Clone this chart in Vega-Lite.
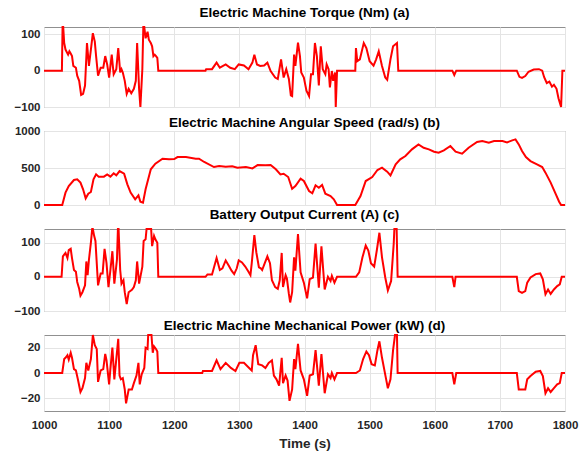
{
  "$schema": "https://vega.github.io/schema/vega-lite/v6.json",
  "padding": {"left": 13, "top": 5, "right": 4, "bottom": 0},
  "bounds": "flush",
  "spacing": 24,
  "config": {
    "view": {"stroke": "#909090", "strokeWidth": 1},
    "axis": {"labelFont": "Liberation Sans", "labelFontWeight": "bold", "labelFontSize": 11.5, "labelColor": "#262626", "gridColor": "#e4e4e4", "gridWidth": 1, "grid": true, "domain": false, "ticks": false, "labelPadding": 4, "labelFlush": false, "titleFont": "Liberation Sans", "titleFontWeight": "bold", "titleFontSize": 13.5, "titleColor": "#262626"},
    "title": {"font": "Liberation Sans", "fontSize": 13.5, "fontWeight": "bold", "color": "#000000", "offset": 0, "anchor": "middle"},
    "line": {"color": "#ff0000", "strokeWidth": 2, "clip": true}
  },
  "datasets": {
    "torque": [
      {"t":1000,"v":0},{"t":1027.5,"v":0},{"t":1028.5,"v":120},{"t":1029.5,"v":120},{"t":1031,"v":76},{"t":1033,"v":58},{"t":1037,"v":44},{"t":1039,"v":53},{"t":1041,"v":47},{"t":1043,"v":40},{"t":1045,"v":13},{"t":1049,"v":8},{"t":1051,"v":-14},{"t":1054,"v":-28},{"t":1057,"v":-67},{"t":1060,"v":-64},{"t":1063,"v":-41},{"t":1066,"v":76},{"t":1069,"v":13},{"t":1072,"v":58},{"t":1075,"v":103},{"t":1078,"v":80},{"t":1080,"v":40},{"t":1083,"v":-14},{"t":1087,"v":8},{"t":1091,"v":8},{"t":1094,"v":40},{"t":1097,"v":17},{"t":1100,"v":-19},{"t":1104,"v":44},{"t":1107,"v":-10},{"t":1111,"v":4},{"t":1114,"v":62},{"t":1117,"v":-5},{"t":1119,"v":4},{"t":1121,"v":-5},{"t":1124,"v":-28},{"t":1127,"v":-64},{"t":1130,"v":-50},{"t":1134,"v":-62},{"t":1138,"v":-50},{"t":1141,"v":-28},{"t":1143,"v":76},{"t":1146,"v":-50},{"t":1148,"v":-100},{"t":1151,"v":4},{"t":1152.5,"v":120},{"t":1154,"v":120},{"t":1156,"v":89},{"t":1159,"v":107},{"t":1161,"v":85},{"t":1164,"v":76},{"t":1166,"v":67},{"t":1168,"v":40},{"t":1170,"v":44},{"t":1172,"v":40},{"t":1174,"v":35},{"t":1175.5,"v":0},{"t":1248,"v":0},{"t":1249,"v":4},{"t":1258,"v":4},{"t":1265,"v":22},{"t":1270,"v":8},{"t":1279,"v":17},{"t":1286,"v":8},{"t":1293,"v":4},{"t":1299,"v":17},{"t":1307,"v":14},{"t":1314,"v":4},{"t":1320,"v":22},{"t":1323,"v":44},{"t":1327,"v":17},{"t":1332,"v":13},{"t":1338,"v":14},{"t":1343,"v":22},{"t":1348,"v":-1},{"t":1355,"v":-19},{"t":1359,"v":-23},{"t":1364,"v":31},{"t":1368,"v":-19},{"t":1372,"v":4},{"t":1376,"v":-23},{"t":1379,"v":-68},{"t":1381,"v":-70},{"t":1384,"v":44},{"t":1386,"v":13},{"t":1390,"v":77},{"t":1393,"v":40},{"t":1395,"v":-5},{"t":1399,"v":-19},{"t":1403,"v":-55},{"t":1407,"v":-70},{"t":1410,"v":-10},{"t":1413,"v":-10},{"t":1416,"v":76},{"t":1419,"v":40},{"t":1422,"v":-41},{"t":1425,"v":67},{"t":1428,"v":4},{"t":1432,"v":-10},{"t":1434,"v":17},{"t":1437,"v":4},{"t":1439,"v":-46},{"t":1442,"v":-1},{"t":1444,"v":-28},{"t":1447,"v":-5},{"t":1448,"v":-100},{"t":1450,"v":0},{"t":1478,"v":0},{"t":1479,"v":62},{"t":1481,"v":26},{"t":1485,"v":31},{"t":1491,"v":76},{"t":1495,"v":62},{"t":1500,"v":26},{"t":1506,"v":14},{"t":1510,"v":31},{"t":1514,"v":53},{"t":1519,"v":13},{"t":1524,"v":-19},{"t":1527,"v":-25},{"t":1532,"v":31},{"t":1536,"v":67},{"t":1542,"v":76},{"t":1544,"v":0},{"t":1627,"v":0},{"t":1630,"v":-12},{"t":1633,"v":0},{"t":1726,"v":0},{"t":1730,"v":-17},{"t":1734,"v":-20},{"t":1739,"v":-15},{"t":1744,"v":-3},{"t":1752,"v":3},{"t":1760,"v":4},{"t":1765,"v":0},{"t":1768,"v":-18},{"t":1772,"v":-34},{"t":1776,"v":-30},{"t":1780,"v":-44},{"t":1783,"v":-39},{"t":1787,"v":-50},{"t":1790,"v":-76},{"t":1794,"v":-100},{"t":1796,"v":0},{"t":1800,"v":0}
    ],
    "speed": [
      {"t":1000,"v":0},{"t":1028,"v":0},{"t":1033,"v":167},{"t":1038,"v":257},{"t":1046,"v":338},{"t":1051,"v":347},{"t":1056,"v":302},{"t":1060,"v":212},{"t":1064,"v":90},{"t":1068,"v":153},{"t":1072,"v":176},{"t":1076,"v":347},{"t":1080,"v":414},{"t":1084,"v":383},{"t":1092,"v":383},{"t":1097,"v":414},{"t":1102,"v":383},{"t":1107,"v":428},{"t":1111,"v":400},{"t":1116,"v":459},{"t":1123,"v":423},{"t":1128,"v":279},{"t":1133,"v":167},{"t":1140,"v":77},{"t":1145,"v":131},{"t":1148,"v":45},{"t":1152,"v":32},{"t":1156,"v":212},{"t":1164,"v":482},{"t":1171,"v":558},{"t":1182,"v":626},{"t":1192,"v":617},{"t":1200,"v":621},{"t":1205,"v":648},{"t":1218,"v":648},{"t":1233,"v":626},{"t":1238,"v":626},{"t":1246,"v":581},{"t":1261,"v":513},{"t":1269,"v":527},{"t":1279,"v":518},{"t":1289,"v":522},{"t":1297,"v":504},{"t":1310,"v":513},{"t":1320,"v":495},{"t":1328,"v":540},{"t":1340,"v":536},{"t":1348,"v":540},{"t":1356,"v":482},{"t":1363,"v":414},{"t":1368,"v":423},{"t":1375,"v":378},{"t":1381,"v":220},{"t":1386,"v":257},{"t":1394,"v":356},{"t":1399,"v":324},{"t":1407,"v":189},{"t":1412,"v":158},{"t":1417,"v":266},{"t":1422,"v":234},{"t":1427,"v":270},{"t":1432,"v":153},{"t":1440,"v":122},{"t":1445,"v":77},{"t":1450,"v":0},{"t":1478,"v":0},{"t":1486,"v":122},{"t":1494,"v":324},{"t":1504,"v":378},{"t":1512,"v":473},{"t":1519,"v":504},{"t":1527,"v":450},{"t":1532,"v":400},{"t":1540,"v":549},{"t":1547,"v":617},{"t":1555,"v":662},{"t":1565,"v":752},{"t":1575,"v":819},{"t":1583,"v":774},{"t":1591,"v":752},{"t":1599,"v":720},{"t":1606,"v":707},{"t":1614,"v":738},{"t":1624,"v":797},{"t":1632,"v":720},{"t":1642,"v":693},{"t":1652,"v":774},{"t":1665,"v":851},{"t":1673,"v":864},{"t":1683,"v":842},{"t":1691,"v":864},{"t":1704,"v":864},{"t":1711,"v":846},{"t":1719,"v":873},{"t":1724,"v":887},{"t":1729,"v":819},{"t":1734,"v":729},{"t":1740,"v":648},{"t":1747,"v":594},{"t":1757,"v":549},{"t":1765,"v":513},{"t":1770,"v":437},{"t":1778,"v":302},{"t":1786,"v":144},{"t":1791,"v":45},{"t":1794,"v":0},{"t":1800,"v":0}
    ],
    "current": [
      {"t":1000,"v":0},{"t":1027,"v":0},{"t":1029,"v":60},{"t":1031,"v":65},{"t":1033,"v":70},{"t":1036,"v":55},{"t":1038,"v":78},{"t":1041,"v":82},{"t":1043,"v":55},{"t":1046,"v":20},{"t":1049,"v":15},{"t":1051,"v":-15},{"t":1054,"v":-35},{"t":1056,"v":-55},{"t":1059,"v":-45},{"t":1063,"v":-25},{"t":1065,"v":45},{"t":1067,"v":5},{"t":1069,"v":50},{"t":1072,"v":100},{"t":1074,"v":140},{"t":1075,"v":140},{"t":1077,"v":120},{"t":1079,"v":105},{"t":1083,"v":-25},{"t":1087,"v":10},{"t":1090,"v":10},{"t":1093,"v":82},{"t":1096,"v":40},{"t":1099,"v":-30},{"t":1102,"v":20},{"t":1105,"v":75},{"t":1108,"v":-20},{"t":1112,"v":50},{"t":1113.5,"v":140},{"t":1114.5,"v":140},{"t":1117,"v":20},{"t":1119,"v":-20},{"t":1122,"v":-10},{"t":1124,"v":-45},{"t":1127,"v":-80},{"t":1130,"v":-45},{"t":1135,"v":-38},{"t":1138,"v":-30},{"t":1141,"v":-10},{"t":1143,"v":45},{"t":1146,"v":-20},{"t":1148,"v":0},{"t":1151,"v":30},{"t":1153,"v":105},{"t":1156,"v":110},{"t":1157.5,"v":140},{"t":1164.5,"v":140},{"t":1166,"v":90},{"t":1169,"v":120},{"t":1171,"v":110},{"t":1174,"v":100},{"t":1175.5,"v":0},{"t":1248,"v":0},{"t":1251,"v":7},{"t":1258,"v":7},{"t":1265,"v":55},{"t":1270,"v":20},{"t":1274,"v":25},{"t":1279,"v":48},{"t":1284,"v":32},{"t":1288,"v":18},{"t":1292,"v":8},{"t":1296,"v":25},{"t":1299,"v":48},{"t":1304,"v":42},{"t":1309,"v":30},{"t":1314,"v":15},{"t":1317,"v":5},{"t":1319,"v":40},{"t":1323,"v":122},{"t":1326,"v":72},{"t":1330,"v":28},{"t":1333,"v":25},{"t":1335,"v":20},{"t":1339,"v":40},{"t":1343,"v":60},{"t":1347,"v":40},{"t":1350,"v":-10},{"t":1355,"v":-30},{"t":1359,"v":-35},{"t":1362,"v":-10},{"t":1365,"v":70},{"t":1367,"v":-30},{"t":1371,"v":5},{"t":1373,"v":-5},{"t":1376,"v":-50},{"t":1378,"v":-75},{"t":1381,"v":-45},{"t":1384,"v":57},{"t":1386,"v":18},{"t":1390,"v":125},{"t":1394,"v":13},{"t":1399,"v":-17},{"t":1404,"v":-63},{"t":1408,"v":-7},{"t":1413,"v":-2},{"t":1417,"v":97},{"t":1422,"v":-32},{"t":1426,"v":89},{"t":1431,"v":-37},{"t":1436,"v":0},{"t":1440,"v":-12},{"t":1442,"v":3},{"t":1446,"v":-17},{"t":1450,"v":0},{"t":1479,"v":0},{"t":1484,"v":13},{"t":1489,"v":57},{"t":1494,"v":92},{"t":1498,"v":77},{"t":1502,"v":40},{"t":1507,"v":30},{"t":1511,"v":77},{"t":1515,"v":129},{"t":1519,"v":57},{"t":1524,"v":-2},{"t":1528,"v":-40},{"t":1533,"v":-12},{"t":1537,"v":97},{"t":1538,"v":140},{"t":1541.5,"v":140},{"t":1543,"v":0},{"t":1627,"v":0},{"t":1630,"v":-30},{"t":1632,"v":0},{"t":1726,"v":0},{"t":1729,"v":-42},{"t":1734,"v":-47},{"t":1739,"v":-42},{"t":1742,"v":-17},{"t":1747,"v":-2},{"t":1755,"v":8},{"t":1762,"v":10},{"t":1766,"v":-7},{"t":1770,"v":-51},{"t":1774,"v":-37},{"t":1778,"v":-50},{"t":1783,"v":-37},{"t":1788,"v":-27},{"t":1792,"v":-22},{"t":1795,"v":0},{"t":1800,"v":0}
    ],
    "power": [
      {"t":1000,"v":0},{"t":1028,"v":0},{"t":1031,"v":11},{"t":1033,"v":12},{"t":1036,"v":14},{"t":1038,"v":10.5},{"t":1041,"v":16},{"t":1043,"v":12},{"t":1046,"v":3},{"t":1049,"v":2},{"t":1052,"v":-5},{"t":1056,"v":-15},{"t":1059,"v":-12},{"t":1063,"v":-4},{"t":1065,"v":8},{"t":1068,"v":2},{"t":1072,"v":11},{"t":1075,"v":30},{"t":1078,"v":22},{"t":1081,"v":19},{"t":1083,"v":-7},{"t":1087,"v":2},{"t":1091,"v":3},{"t":1094,"v":15},{"t":1096,"v":10},{"t":1100,"v":-9},{"t":1102,"v":3.5},{"t":1105,"v":20},{"t":1108,"v":-5},{"t":1111,"v":11},{"t":1114,"v":27},{"t":1116,"v":-2},{"t":1118,"v":-5},{"t":1121,"v":-4},{"t":1124,"v":-13},{"t":1126,"v":-24},{"t":1130,"v":-13},{"t":1135,"v":-13},{"t":1138,"v":-8},{"t":1142,"v":-2},{"t":1145,"v":8},{"t":1147,"v":-9},{"t":1150,"v":-1},{"t":1154,"v":4},{"t":1156,"v":20},{"t":1159,"v":19},{"t":1160,"v":30},{"t":1165,"v":30},{"t":1167,"v":16},{"t":1169,"v":21},{"t":1172,"v":19},{"t":1174,"v":17},{"t":1175.5,"v":0},{"t":1243,"v":0},{"t":1244,"v":1.6},{"t":1258,"v":1.6},{"t":1265,"v":10},{"t":1271,"v":3},{"t":1279,"v":8},{"t":1287,"v":4},{"t":1294,"v":1.6},{"t":1300,"v":8},{"t":1307,"v":8},{"t":1315,"v":4},{"t":1319,"v":2},{"t":1321,"v":14},{"t":1325,"v":22},{"t":1329,"v":7},{"t":1335,"v":6},{"t":1340,"v":4},{"t":1345,"v":8},{"t":1350,"v":10},{"t":1353,"v":-2},{"t":1357,"v":-5},{"t":1361,"v":-10},{"t":1365,"v":12},{"t":1367,"v":-8},{"t":1371,"v":-2},{"t":1374,"v":-6},{"t":1377,"v":-22},{"t":1381,"v":-13},{"t":1384,"v":11},{"t":1386,"v":3},{"t":1390,"v":23},{"t":1394,"v":2},{"t":1399,"v":-5},{"t":1404,"v":-18},{"t":1408,"v":-2},{"t":1413,"v":-1},{"t":1417,"v":18},{"t":1422,"v":-10},{"t":1426,"v":15},{"t":1431,"v":-16},{"t":1436,"v":-1},{"t":1440,"v":-4},{"t":1442,"v":0},{"t":1446,"v":-5},{"t":1450,"v":0},{"t":1479,"v":0},{"t":1485,"v":2},{"t":1490,"v":11},{"t":1495,"v":17},{"t":1499,"v":14},{"t":1503,"v":7},{"t":1508,"v":6},{"t":1512,"v":18},{"t":1515,"v":25},{"t":1519,"v":12},{"t":1525,"v":-4},{"t":1528,"v":-12},{"t":1532,"v":-5},{"t":1536,"v":18},{"t":1539,"v":30},{"t":1542,"v":30},{"t":1543,"v":0},{"t":1627,"v":0},{"t":1630,"v":-9},{"t":1633,"v":0},{"t":1726,"v":0},{"t":1729,"v":-13},{"t":1734,"v":-13},{"t":1739,"v":-13},{"t":1742,"v":-5},{"t":1747,"v":-2.4},{"t":1755,"v":1},{"t":1762,"v":1.6},{"t":1766,"v":-2.4},{"t":1770,"v":-16},{"t":1774,"v":-12},{"t":1778,"v":-15},{"t":1783,"v":-12},{"t":1788,"v":-9},{"t":1792,"v":-8},{"t":1795,"v":0},{"t":1800,"v":0}
    ]
  },
  "vconcat": [
    {
      "title": "Electric Machine Torque (Nm) (a)",
      "width": 521, "height": 80,
      "data": {"name": "torque"},
      "mark": {"type": "line"},
      "encoding": {
        "x": {"field": "t", "type": "quantitative", "scale": {"domain": [1000, 1800], "nice": false}, "axis": {"values": [1000,1100,1200,1300,1400,1500,1600,1700,1800], "labels": false, "title": null}},
        "y": {"field": "v", "type": "quantitative", "scale": {"domain": [-100, 120], "nice": false, "zero": false}, "axis": {"values": [-100, 0, 100], "title": null, "format": "d"}}
      }
    },
    {
      "title": {"text": "Electric Machine Angular Speed (rad/s) (b)", "offset": -4},
      "width": 521, "height": 74,
      "data": {"name": "speed"},
      "mark": {"type": "line"},
      "encoding": {
        "x": {"field": "t", "type": "quantitative", "scale": {"domain": [1000, 1800], "nice": false}, "axis": {"values": [1000,1100,1200,1300,1400,1500,1600,1700,1800], "labels": false, "title": null}},
        "y": {"field": "v", "type": "quantitative", "scale": {"domain": [0, 1000], "nice": false}, "axis": {"values": [0, 500, 1000], "title": null, "format": "d"}}
      }
    },
    {
      "title": "Battery Output Current (A) (c)",
      "width": 521, "height": 82,
      "data": {"name": "current"},
      "mark": {"type": "line"},
      "encoding": {
        "x": {"field": "t", "type": "quantitative", "scale": {"domain": [1000, 1800], "nice": false}, "axis": {"values": [1000,1100,1200,1300,1400,1500,1600,1700,1800], "labels": false, "title": null}},
        "y": {"field": "v", "type": "quantitative", "scale": {"domain": [-100, 140], "nice": false, "zero": false}, "axis": {"values": [-100, 0, 100], "title": null, "format": "d"}}
      }
    },
    {
      "title": {"text": "Electric Machine Mechanical Power (kW) (d)", "offset": -1},
      "width": 521, "height": 76,
      "data": {"name": "power"},
      "mark": {"type": "line"},
      "encoding": {
        "x": {"field": "t", "type": "quantitative", "scale": {"domain": [1000, 1800], "nice": false}, "axis": {"values": [1000,1100,1200,1300,1400,1500,1600,1700,1800], "title": "Time (s)", "format": "d", "labelPadding": 8, "titlePadding": 6}},
        "y": {"field": "v", "type": "quantitative", "scale": {"domain": [-30, 30], "nice": false, "zero": false}, "axis": {"values": [-20, 0, 20], "title": null, "format": "d"}}
      }
    }
  ]
}
